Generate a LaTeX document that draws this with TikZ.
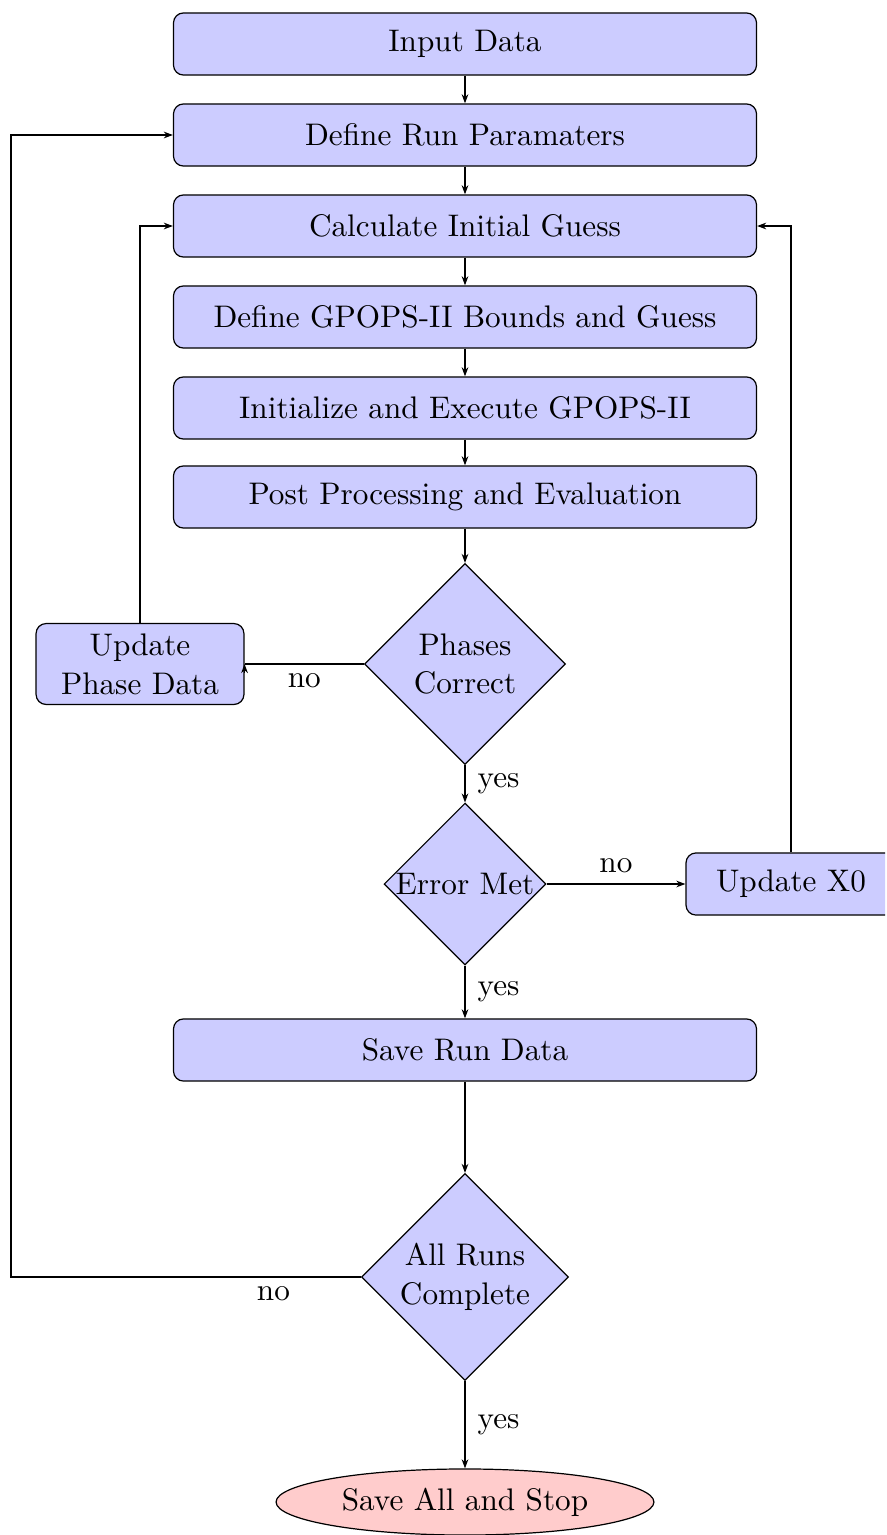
\documentclass[tikz,border=0pt]{standalone}
\usetikzlibrary{shapes.geometric,arrows.meta}
\begin{document}
\begin{tikzpicture}[x=0.33pt,y=-0.33pt,
  every node/.style={font=\fontsize{10.3}{12.8}\selectfont},
  arr/.style={-{Stealth[length=3pt,width=2.2pt]}},
  box/.style={draw,fill=blue!20,rounded corners=3.3pt,minimum width=192.4pt,minimum height=20.5pt,inner sep=0pt,align=center},
  sbox/.style={draw,fill=blue!20,rounded corners=3.3pt,inner sep=0pt,align=center},
  dec/.style={draw,fill=blue!20,diamond,aspect=1,inner sep=0pt,align=center},
  stopnode/.style={draw,fill=red!20,ellipse,inner sep=0pt,minimum width=124.7pt,minimum height=21.8pt},
  lbl/.style={inner sep=0pt}]
\useasboundingbox (0,0) rectangle (886,1535);
\clip (0,0) rectangle (885,1535);
\node[box] (input) at (465,44) {Input Data};
\node[box] (runpar) at (465,135) {Define Run Paramaters};
\node[box] (guess) at (465,226) {Calculate Initial Guess};
\node[box] (bounds) at (465,317) {Define GPOPS-II Bounds and Guess};
\node[box] (exec) at (465,408) {Initialize and Execute GPOPS-II};
\node[box] (post) at (465,497) {Post Processing and Evaluation};
\node[dec,minimum size=66.3pt] (phases) at (465,664) {Phases\\Correct};
\node[sbox,minimum width=68.6pt,minimum height=26.7pt] (updphase) at (140,664) {Update\\Phase Data};
\node[dec,minimum size=53.4pt] (errmet) at (465,884) {Error Met};
\node[sbox,minimum width=69.3pt,minimum height=20.5pt] (updx) at (791,884) {Update X0};
\node[box] (saverun) at (465,1050) {Save Run Data};
\node[dec,minimum size=68.3pt] (allruns) at (465,1277) {All Runs\\Complete};
\node[stopnode] (stop) at (465,1502) {Save All and Stop};
\draw[arr] (input) -- (runpar);
\draw[arr] (runpar) -- (guess);
\draw[arr] (guess) -- (bounds);
\draw[arr] (bounds) -- (exec);
\draw[arr] (exec) -- (post);
\draw[arr] (post) -- (phases);
\draw[arr] (phases) -- node[lbl,right=4pt]{yes} (errmet);
\draw[arr] (errmet) -- node[lbl,right=4pt]{yes} (saverun);
\draw[arr] (saverun) -- (allruns);
\draw[arr] (allruns) -- node[lbl,right=4pt]{yes} (stop);
\draw (phases.west) -- node[lbl,below=3pt]{no} (updphase.east);
\coordinate (tipbase) at ([yshift=-3pt]updphase.east);
\draw[arr] (tipbase) -- (updphase.east);
\draw[arr] (updphase.north) |- (guess.west);
\draw[arr] (errmet.east) -- node[lbl,above=3.5pt]{no} (updx.west);
\draw[arr] (updx.north) |- (guess.east);
\coordinate (leftcorner) at (11,1277);
\draw[arr] (allruns.west) -- node[lbl,below=3pt,pos=0.25]{no} (leftcorner) |- (runpar.west);
\end{tikzpicture}
\end{document}
